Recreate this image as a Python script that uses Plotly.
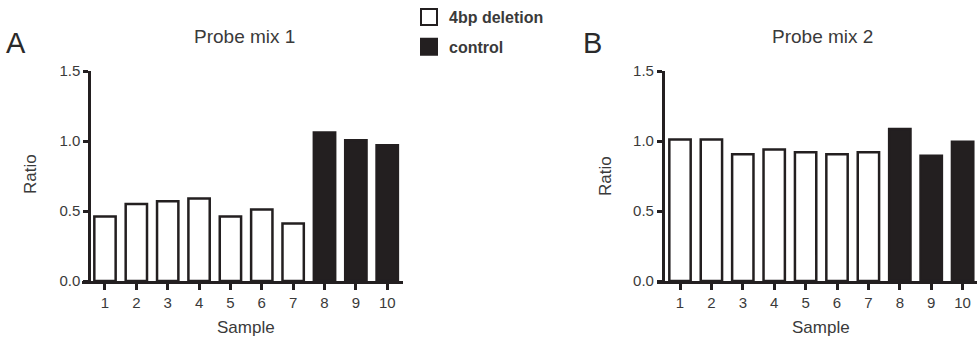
import plotly.graph_objects as go

# Samples and measured ratios for each probe mix
deletion_samples = [1, 2, 3, 4, 5, 6, 7]
control_samples = [8, 9, 10]
tick_labels = ["1", "2", "3", "4", "5", "6", "7", "8", "9", "10"]

mix1_deletion = [0.46, 0.55, 0.57, 0.59, 0.46, 0.51, 0.41]
mix1_control = [1.06, 1.005, 0.97]

mix2_deletion = [1.01, 1.01, 0.905, 0.94, 0.92, 0.905, 0.92]
mix2_control = [1.085, 0.895, 0.995]

y_ticks = [0.0, 0.5, 1.0, 1.5]
y_tick_text = ["0.0", "0.5", "1.0", "1.5"]

W, H = 977, 339
INK = "#231f20"
TEXT = "#3a3a3a"
FONT = "Arial, Liberation Sans, Helvetica, sans-serif"


def px_x(p):
    return p / W


def px_y(p):
    return 1 - p / H


fig = go.Figure()

bar_w = 0.68
panels = [
    ("x", "y", mix1_deletion, mix1_control),
    ("x2", "y2", mix2_deletion, mix2_control),
]
for xa, ya, dele, ctrl in panels:
    fig.add_trace(go.Bar(
        x=deletion_samples, y=dele, width=bar_w, xaxis=xa, yaxis=ya,
        marker=dict(color="white", line=dict(color=INK, width=2.5)),
        name="4bp deletion", showlegend=False,
    ))
    fig.add_trace(go.Bar(
        x=control_samples, y=ctrl, width=bar_w, xaxis=xa, yaxis=ya,
        marker=dict(color=INK, line=dict(color=INK, width=2.5)),
        name="control", showlegend=False,
    ))

# Legend entries (square swatches)
fig.add_trace(go.Scatter(
    x=[None], y=[None], mode="markers", name="4bp deletion", legendgroup="a",
    marker=dict(symbol="square", size=19, color="white", line=dict(color=INK, width=2)),
))
fig.add_trace(go.Scatter(
    x=[None], y=[None], mode="markers", name="control", legendgroup="b",
    marker=dict(symbol="square", size=19, color=INK, line=dict(color=INK, width=2)),
))

y_dom = [px_y(281), px_y(71)]

common_x = dict(
    tickmode="array", tickvals=list(range(1, 11)), ticktext=tick_labels,
    showline=True, linecolor=INK, linewidth=2.5,
    ticks="outside", ticklen=6, tickwidth=2.5, tickcolor=INK,
    showgrid=False, zeroline=False, fixedrange=True,
    tickfont=dict(family=FONT, size=15, color=TEXT),
)
common_y = dict(
    range=[0, 1.5], tickmode="array", tickvals=y_ticks, ticktext=y_tick_text,
    showline=True, linecolor=INK, linewidth=2.5,
    ticks="outside", ticklen=5, tickwidth=2.5, tickcolor=INK,
    showgrid=False, zeroline=False, fixedrange=True,
    tickfont=dict(family=FONT, size=15, color=TEXT),
    domain=y_dom, anchor="free",
)

fig.update_layout(
    width=W, height=H,
    margin=dict(l=0, r=0, t=0, b=0, autoexpand=False),
    paper_bgcolor="white", plot_bgcolor="white",
    barmode="overlay",
    xaxis=dict(common_x, domain=[px_x(82), px_x(403)], range=[0.267, 10.503], anchor="y"),
    yaxis=dict(common_y, position=px_x(89)),
    xaxis2=dict(common_x, domain=[px_x(656.7), 1.0], range=[0.258, 10.458], anchor="y2"),
    yaxis2=dict(common_y, position=px_x(662.7)),
    showlegend=True,
    legend=dict(
        x=px_x(409), y=1.0, xanchor="left", yanchor="top",
        font=dict(family=FONT, size=16, color=TEXT, weight="bold"),
        bgcolor="rgba(0,0,0,0)", tracegroupgap=6, itemclick=False,
    ),
)

annotations = [
    dict(text="A", x=px_x(16), y=px_y(43), font=dict(size=29, color="#2a2a2a")),
    dict(text="B", x=px_x(592), y=px_y(43), font=dict(size=29, color="#2a2a2a")),
    dict(text="Probe mix 1", x=px_x(245), y=px_y(37), font=dict(size=19, color=TEXT)),
    dict(text="Probe mix 2", x=px_x(822), y=px_y(37), font=dict(size=19, color=TEXT)),
    dict(text="Sample", x=px_x(246), y=px_y(327), font=dict(size=17, color=TEXT)),
    dict(text="Sample", x=px_x(821), y=px_y(327), font=dict(size=17, color=TEXT)),
    dict(text="Ratio", x=px_x(30), y=px_y(174), textangle=-90, font=dict(size=17, color=TEXT)),
    dict(text="Ratio", x=px_x(605), y=px_y(176), textangle=-90, font=dict(size=17, color=TEXT)),
]
for a in annotations:
    a.update(xref="paper", yref="paper", showarrow=False, xanchor="center", yanchor="middle")
    a["font"]["family"] = FONT
fig.update_layout(annotations=annotations)

fig.write_html("out.html")
